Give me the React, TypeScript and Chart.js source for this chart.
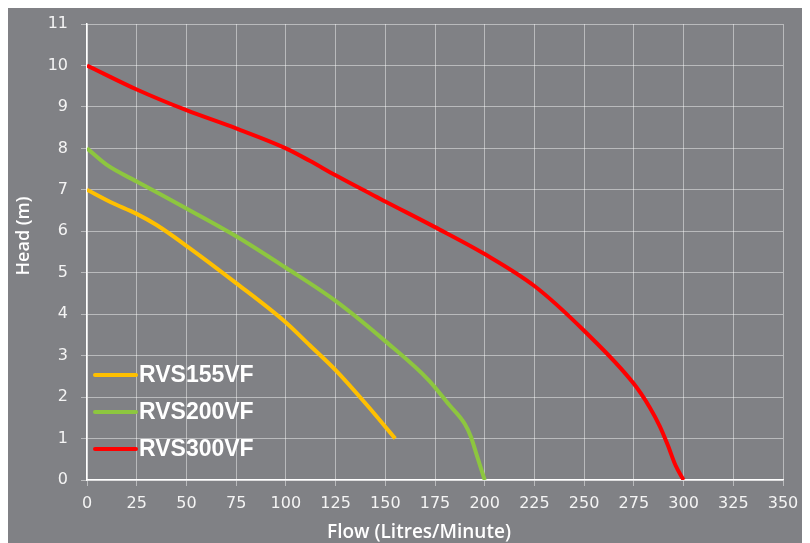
import React, { useEffect, useRef } from "react";
import { Chart, registerables } from "chart.js";

Chart.register(...registerables);

const seriesNames = ["RVS155VF", "RVS200VF", "RVS300VF"];
const seriesColors = ["#FFC000", "#8DC63F", "#FF0000"];

const flow155 = [0, 12, 25, 35, 50, 75, 100, 112, 125, 140, 155];
const head155 = [7.0, 6.7, 6.42, 6.15, 5.65, 4.75, 3.8, 3.25, 2.65, 1.85, 1.0];

const flow200 = [0, 10, 25, 50, 75, 100, 125, 150, 172, 182, 190, 193, 196, 200];
const head200 = [8.0, 7.6, 7.2, 6.55, 5.88, 5.12, 4.32, 3.35, 2.4, 1.82, 1.35, 1.05, 0.6, 0.0];

const flow300 = [0, 25, 50, 75, 100, 112, 125, 150, 175, 200, 225, 250, 275, 283, 288, 292, 296, 300];
const head300 = [10.0, 9.42, 8.92, 8.48, 8.0, 7.7, 7.35, 6.72, 6.1, 5.45, 4.68, 3.6, 2.32, 1.75, 1.3, 0.85, 0.35, 0.0];

const xTicksMax = 350;
const xStep = 25;
const yTicksMax = 11;
const yStep = 1;

const xTitle = "Flow (Litres/Minute)";
const yTitle = "Head (m)";

function pairs(xs: number[], ys: number[]) {
  return xs.map((x, i) => ({ x, y: ys[i] }));
}

const insideLegend = {
  id: "insideLegend",
  afterDatasetsDraw(chart: any) {
    const ctx = chart.ctx;
    const area = chart.chartArea;
    const x0 = area.left + 8;
    const lineLen = 41;
    const y0 = area.top + 351;
    const gap = 37;
    ctx.save();
    chart.data.datasets.forEach((ds: any, i: number) => {
      const y = y0 + i * gap;
      ctx.strokeStyle = ds.borderColor;
      ctx.lineWidth = 4;
      ctx.lineCap = "round";
      ctx.beginPath();
      ctx.moveTo(x0, y);
      ctx.lineTo(x0 + lineLen, y);
      ctx.stroke();
      ctx.fillStyle = "#ffffff";
      ctx.font = "bold 23px 'Liberation Sans', Arial, sans-serif";
      ctx.textBaseline = "middle";
      ctx.textAlign = "left";
      ctx.fillText(ds.label, x0 + lineLen + 3, y + 1);
    });
    // axis titles, placed as in the reference
    ctx.fillStyle = "#ffffff";
    ctx.textAlign = "center";
    ctx.textBaseline = "middle";
    ctx.font = "600 19px 'Open Sans', sans-serif";
    ctx.fillText(xTitle, 411, chart.height - 10);
    ctx.translate(16, 228);
    ctx.rotate(-Math.PI / 2);
    ctx.font = "600 18px 'Open Sans', sans-serif";
    ctx.fillText(yTitle, 0, 0);
    ctx.restore();
  },
};

export default function App() {
  const ref = useRef<HTMLCanvasElement>(null);
  useEffect(() => {
    if (!ref.current) return;
    const datasets = [
      pairs(flow155, head155),
      pairs(flow200, head200),
      pairs(flow300, head300),
    ].map((d, i) => ({
      label: seriesNames[i],
      data: d,
      borderColor: seriesColors[i],
      backgroundColor: seriesColors[i],
      borderWidth: 4,
      pointRadius: 0,
      tension: 0.4,
      cubicInterpolationMode: "monotone" as const,
      fill: false,
    }));
    const tickFont = { family: "'DejaVu Sans', sans-serif", size: 16 };
    const gridColor = "rgba(255,255,255,0.45)";
    const chart = new Chart(ref.current, {
      type: "line",
      data: { datasets },
      plugins: [insideLegend],
      options: {
        animation: false,
        responsive: false,
        layout: { padding: { top: 16, right: 27, left: 0, bottom: 0 } },
        plugins: {
          legend: { display: false },
          tooltip: { enabled: false },
        },
        scales: {
          x: {
            type: "linear",
            min: 0,
            max: xTicksMax,
            ticks: { stepSize: xStep, color: "#f4f4f4", font: tickFont, padding: 8, maxRotation: 0 },
            grid: { color: gridColor, tickLength: 6, tickColor: gridColor },
            border: { color: "#ffffff", width: 1.5 },
            title: { display: false, text: xTitle },
            afterFit: (s: any) => { s.height = 63; s.paddingLeft = 0; s.paddingRight = 0; },
          } as any,
          y: {
            type: "linear",
            min: 0,
            max: yTicksMax,
            ticks: { stepSize: yStep, color: "#f4f4f4", font: tickFont, padding: 13 },
            grid: { color: gridColor, tickLength: 6, tickColor: gridColor },
            border: { color: "#ffffff", width: 1.5 },
            title: { display: false, text: yTitle },
            afterFit: (s: any) => { s.width = 79; s.paddingTop = 0; s.paddingBottom = 0; },
          } as any,
        },
      },
    });
    return () => chart.destroy();
  }, []);
  return (
    <div style={{ width: 802, height: 535, background: "#808185" }}>
      <canvas ref={ref} width={802} height={535} style={{ display: "block" }} />
    </div>
  );
}
